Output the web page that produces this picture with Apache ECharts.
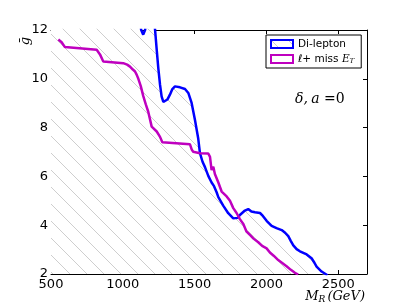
<!DOCTYPE html>
<html>
<head>
<meta charset="utf-8">
<script src="https://cdn.jsdelivr.net/npm/echarts@6/dist/echarts.min.js"></script>
<style>
html,body{margin:0;padding:0;background:#fff;}
#c{width:407px;height:305px;}
</style>
</head>
<body>
<div id="c"></div>
<script>
// ---- data ----
var xTicks = [500, 1000, 1500, 2000, 2500];
var yTicks = [2, 4, 6, 8, 10, 12];
var seriesNames = ['Di-lepton', 'ℓ+ miss E_T'];
var diLepton = [
  [500,12.5],[1115,12.5],[1128,12],[1142,11.81],[1155,12],[1165,12.5],[1215,12.5],
  [1224,12.05],[1235,11.26],[1247,10.44],[1259,9.76],[1270,9.28],[1282,9.05],[1293,8.97],
  [1310,9.15],[1328,9.35],[1345,9.58],[1363,9.69],[1398,9.65],[1433,9.58],[1456,9.42],
  [1479,9.01],[1502,8.32],[1525,7.55],[1537,6.95],[1555,6.6],[1572,6.38],[1595,6.02],
  [1618,5.75],[1635,5.6],[1653,5.35],[1665,5.15],[1699,4.8],[1734,4.49],[1769,4.28],
  [1781,4.22],[1800,4.3],[1815,4.42],[1850,4.6],[1873,4.66],[1895,4.56],[1920,4.53],
  [1955,4.5],[1975,4.38],[2001,4.18],[2036,3.97],[2070,3.88],[2106,3.8],[2130,3.69],
  [2152,3.55],[2170,3.35],[2187,3.17],[2210,3.02],[2233,2.93],[2280,2.8],[2314,2.65],
  [2335,2.45],[2349,2.3],[2384,2.1],[2425,1.95]
];
var leptonMET = [
  [551,11.61],[574,11.5],[597,11.3],[818,11.19],[841,11.0],[864,10.71],[1003,10.64],
  [1030,10.58],[1050,10.5],[1070,10.38],[1085,10.3],[1097,10.16],[1108,10.0],[1125,9.7],
  [1142,9.3],[1160,8.95],[1177,8.65],[1201,8.04],[1236,7.84],[1259,7.62],[1275,7.4],
  [1467,7.32],[1480,7.1],[1490,7.01],[1537,6.95],[1595,6.94],[1607,6.8],[1618,6.26],
  [1630,6.4],[1641,6.1],[1665,5.75],[1688,5.38],[1723,5.18],[1746,5.0],[1769,4.7],
  [1792,4.5],[1815,4.25],[1839,4.05],[1860,3.75],[1885,3.6],[1910,3.45],[1943,3.3],
  [1970,3.15],[2001,3.05],[2024,2.88],[2050,2.75],[2082,2.57],[2110,2.45],[2140,2.32],
  [2170,2.17],[2198,2.05],[2221,1.98]
];

// ---- hatch pattern ----
var T = 17;
var pc = document.createElement('canvas');
pc.width = T; pc.height = T;
var g = pc.getContext('2d');
g.fillStyle = '#fff';
g.fillRect(0,0,T,T);
g.strokeStyle = '#c2c2c2';
g.lineWidth = 0.8;
g.beginPath();
g.moveTo(-2,-2); g.lineTo(T+2,T+2);
g.moveTo(-2,T-2); g.lineTo(2,T+2);
g.moveTo(T-2,-2); g.lineTo(T+2,2);
g.stroke();

var chart = echarts.init(document.getElementById('c'), null, {renderer:'canvas'});
var serif = '"DejaVu Serif", "Liberation Serif", serif';
var sans = '"DejaVu Sans", sans-serif';
var tickFmtX = function(v){ return xTicks.indexOf(v) >= 0 ? String(v) : ''; };

var axisBase = {
  axisLine:{show:true, onZero:false, lineStyle:{color:'#000', width:1}},
  axisTick:{show:true, inside:true, length:4, lineStyle:{color:'#000'}},
  splitLine:{show:false}
};

chart.setOption({
  animation:false,
  backgroundColor:'#fff',
  grid:{left:51, right:40, top:30, bottom:31, containLabel:false},
  xAxis:[
    Object.assign({}, axisBase, {type:'value', min:500, max:2700, interval:500, position:'bottom',
      axisLabel:{show:true, margin:4, color:'#000', fontSize:13, fontFamily:sans, formatter:tickFmtX}}),
    Object.assign({}, axisBase, {type:'value', min:500, max:2700, interval:500, position:'top',
      axisLabel:{show:false}})
  ],
  yAxis:[
    Object.assign({}, axisBase, {type:'value', min:2, max:12, interval:2, position:'left',
      axisLabel:{show:true, margin:3, color:'#000', fontSize:13, fontFamily:sans}}),
    Object.assign({}, axisBase, {type:'value', min:2, max:12, interval:2, position:'right',
      axisLabel:{show:false}})
  ],
  legend:{
    orient:'vertical', left:266, top:35,
    backgroundColor:'#fff', borderColor:'#000', borderWidth:1, borderRadius:0,
    padding:[3,7,3,4], itemGap:3, itemWidth:22, itemHeight:8,
    icon:'rect',
    textStyle:{fontSize:10.5, fontFamily:sans, color:'#000', lineHeight:12,
      rich:{i:{fontFamily:serif, fontStyle:'italic', fontSize:10.5}, s:{fontFamily:serif, fontStyle:'italic', fontSize:7, verticalAlign:'bottom', padding:[4,0,0,0]}}},
    formatter:function(n){ return n === seriesNames[1] ? 'ℓ+ miss {i|E}{s|T}' : n; },
    data:[
      {name:seriesNames[0], itemStyle:{color:{image:pc, repeat:'repeat'}, borderColor:'#0000ff', borderWidth:2}},
      {name:seriesNames[1], itemStyle:{color:'#fff', borderColor:'#bf00bf', borderWidth:2}}
    ]
  },
  series:[
    {name:seriesNames[0], type:'line', data:diLepton, showSymbol:false, symbol:'none', clip:true,
      lineStyle:{color:'#0000ff', width:2.5}, itemStyle:{color:'#0000ff'},
      areaStyle:{color:{image:pc, repeat:'repeat'}, origin:'start', opacity:1}, z:2},
    {name:seriesNames[1], type:'line', data:leptonMET, showSymbol:false, symbol:'none', clip:true,
      lineStyle:{color:'#bf00bf', width:2.5}, itemStyle:{color:'#bf00bf'}, z:3}
  ],
  graphic:[
    {type:'text', x:26, y:41, rotation:Math.PI/2, style:{text:'ḡ', font:'italic 13px '+serif, fill:'#000', align:'center', verticalAlign:'middle'}},
    {type:'text', x:365, y:297, style:{text:'{i|M}{s|R}{i|(GeV)}', align:'right', verticalAlign:'middle',
      rich:{i:{fontFamily:serif, fontStyle:'italic', fontSize:13, fill:'#000'}, s:{fontFamily:serif, fontStyle:'italic', fontSize:9, padding:[6,2,0,0], fill:'#000'}}}},
    {type:'text', x:295, y:99, style:{text:'{i|δ,} {i|a}{r| =0}', align:'left', verticalAlign:'middle',
      rich:{i:{fontFamily:serif, fontStyle:'italic', fontSize:14, fill:'#000'}, r:{fontFamily:serif, fontSize:14, fill:'#000'}}}}
  ]
});
</script>
</body>
</html>
